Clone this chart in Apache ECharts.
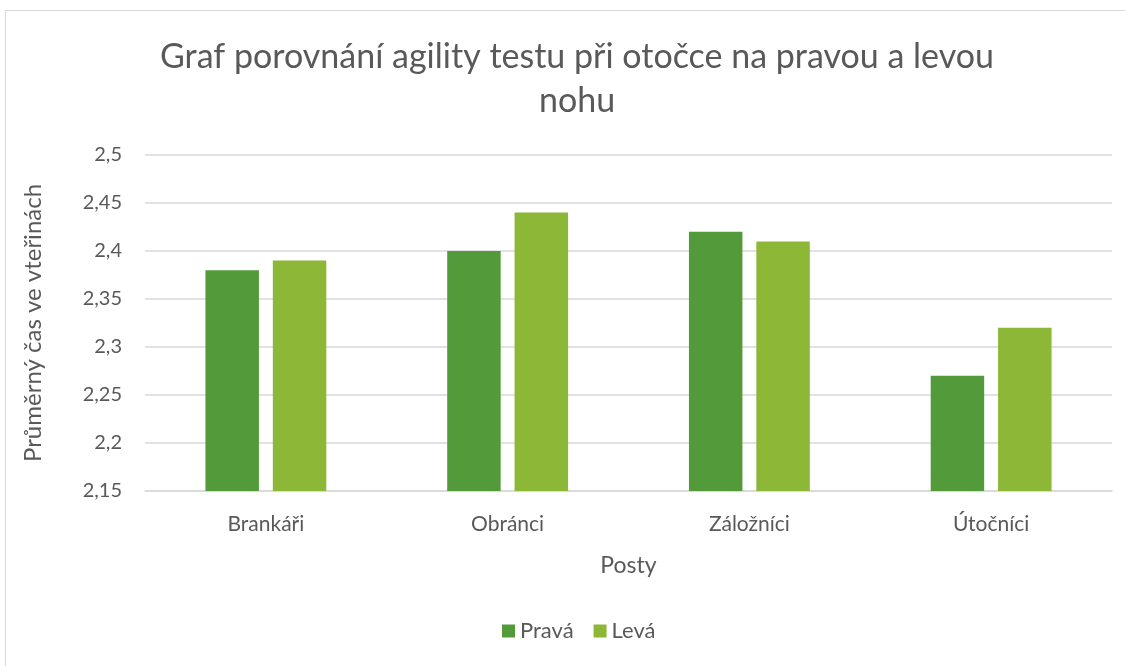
<!DOCTYPE html>
<html>
<head>
<meta charset="utf-8">
<script src="https://cdn.jsdelivr.net/npm/echarts@6/dist/echarts.min.js"></script>
<style>
    html, body { margin: 0; padding: 0; background: #fff; overflow: hidden; }
    #chart { position: absolute; left: 0; top: 0; width: 1125px; height: 666px; }
    #frame { position: absolute; left: 5px; top: 10px; width: 1140px; height: 700px;
             border: 1px solid #d9d9d9; pointer-events: none; }
</style>
</head>
<body>
<div id="chart"></div>
<div id="frame"></div>
<script>
var categories = ['Brankáři', 'Obránci', 'Záložníci', 'Útočníci'];
var pravaValues = [2.38, 2.40, 2.42, 2.27];
var levaValues = [2.39, 2.44, 2.41, 2.32];
var seriesNames = ['Pravá', 'Levá'];

var textColor = '#595959';
var fontName = 'Lato';

function comma(v) {
    return String(+v.toFixed(2)).replace('.', ',');
}

var chart = echarts.init(document.getElementById('chart'));

var options = {
    backgroundColor: '#fff',
    animation: false,
    title: {
        text: 'Graf porovnání agility testu při otočce na pravou a levou\nnohu',
        left: 572,
        textAlign: 'center',
        top: 30,
        textStyle: {
            fontFamily: fontName,
            fontSize: 34,
            fontWeight: 'normal',
            color: textColor,
            lineHeight: 44
        }
    },
    legend: {
        data: seriesNames,
        bottom: 19,
        left: 497,
        itemWidth: 13,
        itemHeight: 13,
        itemGap: 20,
        icon: 'rect',
        textStyle: {
            fontFamily: fontName,
            fontSize: 22,
            color: textColor
        }
    },
    grid: {
        left: 145,
        right: 13,
        top: 155,
        bottom: 175
    },
    xAxis: {
        type: 'category',
        data: categories,
        name: 'Posty',
        nameLocation: 'middle',
        nameGap: 63,
        nameTextStyle: {
            fontFamily: fontName,
            fontSize: 23,
            color: textColor
        },
        axisLine: { lineStyle: { color: '#d9d9d9', width: 1.5 } },
        axisTick: { show: false },
        axisLabel: {
            margin: 23,
            fontFamily: fontName,
            fontSize: 21,
            color: textColor
        }
    },
    yAxis: {
        type: 'value',
        min: 2.15,
        max: 2.5,
        interval: 0.05,
        name: 'Průměrný čas ve vteřinách',
        nameLocation: 'middle',
        nameGap: 100,
        nameTextStyle: {
            fontFamily: fontName,
            fontSize: 24,
            color: textColor
        },
        axisLine: { show: false },
        axisTick: { show: false },
        splitLine: { lineStyle: { color: '#d9d9d9', width: 1.5 } },
        axisLabel: {
            margin: 23,
            fontFamily: fontName,
            fontSize: 20,
            color: textColor,
            formatter: comma
        }
    },
    series: [
        {
            name: seriesNames[0],
            type: 'bar',
            data: pravaValues,
            barGap: '26%',
            barCategoryGap: '50%',
            itemStyle: { color: '#539b3a' }
        },
        {
            name: seriesNames[1],
            type: 'bar',
            data: levaValues,
            itemStyle: { color: '#8cb737' }
        }
    ]
};

chart.setOption(options);
</script>
</body>
</html>
